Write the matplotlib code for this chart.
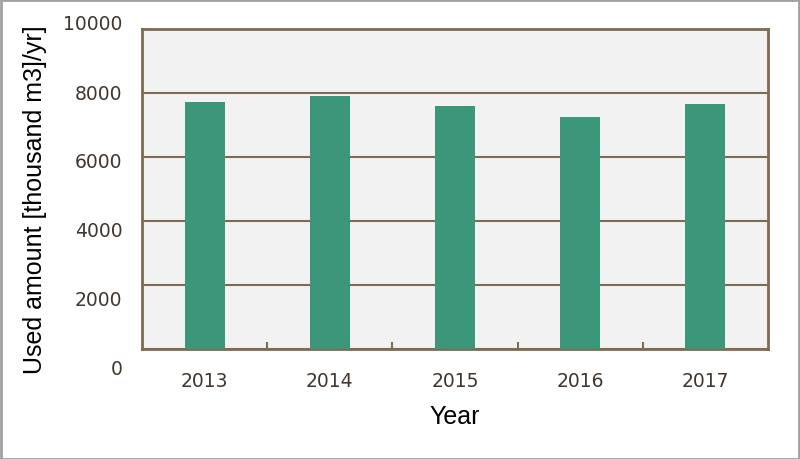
import matplotlib
matplotlib.use("Agg")
import matplotlib.pyplot as plt
from matplotlib.patches import Rectangle

years = ["2013", "2014", "2015", "2016", "2017"]
values = [7720, 7900, 7590, 7250, 7650]
yticks = [0, 2000, 4000, 6000, 8000, 10000]
ytick_labels = ["0", "2000", "4000", "6000", "8000", "10000"]

W, H = 800, 460
fig = plt.figure(figsize=(W / 100, H / 100), dpi=100)
fig.patch.set_facecolor("white")

brown = "#7f6a52"
tick_col = "#40362e"
bar_col = "#3b967a"

ax = fig.add_axes([142 / W, (H - 350) / H, 626 / W, 320 / H])
ax.set_facecolor("#f2f2f2")
x = list(range(len(years)))
ax.bar(x, values, width=0.32, color=bar_col, zorder=3)
ax.set_xlim(-0.5, len(years) - 0.5)
ax.set_ylim(0, 10000)
ax.set_yticks(yticks)
ax.set_yticklabels([])
ax.tick_params(axis="y", length=0)
ax.yaxis.grid(True, color=brown, linewidth=1.5, zorder=1)
ax.set_axisbelow(True)
ax.set_xticks(x)
ax.set_xticklabels(years, fontsize=13.5, color=tick_col, family="DejaVu Sans")
ax.tick_params(axis="x", which="major", length=0, pad=16)
ax.set_xticks([i + 0.5 for i in range(len(years) - 1)], minor=True)
ax.tick_params(axis="x", which="minor", direction="in", length=5, width=1.5, color=brown)
for s in ax.spines.values():
    s.set_color(brown)
    s.set_linewidth(2)

# tick labels for y (placed on a separate scale as in the reference)
ax2 = fig.add_axes([142 / W, (H - 368) / H, 0.0001, 345 / H])
ax2.set_ylim(0, 10000)
ax2.set_yticks(yticks)
ax2.set_yticklabels(ytick_labels, fontsize=13.5, color=tick_col, family="DejaVu Sans")
ax2.tick_params(axis="y", length=0, pad=14)
ax2.set_xticks([])
for s in ax2.spines.values():
    s.set_visible(False)
ax2.patch.set_visible(False)

fig.text(35 / W, 1 - 200 / H, "Used amount [thousand m3]/yr]", rotation=90,
         ha="center", va="center", fontsize=18, family="Liberation Sans", color="black")
fig.text(455 / W, 1 - 417 / H, "Year", ha="center", va="center",
         fontsize=18, family="Liberation Sans", color="black")

fig.patches.append(Rectangle((0.001, 0.001), 0.998, 0.997, transform=fig.transFigure,
                             fill=False, edgecolor="#a0a0a0", linewidth=2))

fig.savefig("out.png", dpi=100)
